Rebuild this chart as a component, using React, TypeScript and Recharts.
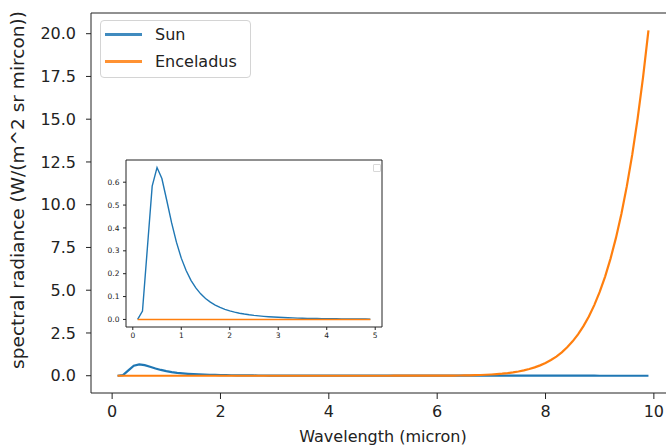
import React from "react";
import { LineChart, Line, XAxis, YAxis, ReferenceLine, Legend } from "recharts";

const SUN = "#1f77b4";
const ENCELADUS = "#ff7f0e";
const INK = "#222";
const FONT = "DejaVu Sans, sans-serif";

// wavelength grid (micron)
const wavelength = [
  0.1, 0.2, 0.3, 0.4, 0.5, 0.6, 0.7, 0.8, 0.9,
  1.0, 1.1, 1.2, 1.3, 1.4, 1.5, 1.6, 1.7, 1.8, 1.9,
  2.0, 2.1, 2.2, 2.3, 2.4, 2.5, 2.6, 2.7, 2.8, 2.9,
  3.0, 3.1, 3.2, 3.3, 3.4, 3.5, 3.6, 3.7, 3.8, 3.9,
  4.0, 4.1, 4.2, 4.3, 4.4, 4.5, 4.6, 4.7, 4.8, 4.9,
  5.0, 5.1, 5.2, 5.3, 5.4, 5.5, 5.6, 5.7, 5.8, 5.9,
  6.0, 6.1, 6.2, 6.3, 6.4, 6.5, 6.6, 6.7, 6.8, 6.9,
  7.0, 7.1, 7.2, 7.3, 7.4, 7.5, 7.6, 7.7, 7.8, 7.9,
  8.0, 8.1, 8.2, 8.3, 8.4, 8.5, 8.6, 8.7, 8.8, 8.9,
  9.0, 9.1, 9.2, 9.3, 9.4, 9.5, 9.6, 9.7, 9.8, 9.9,
];

// spectral radiance, W/(m^2 sr micron)
const sun = [
  0, 0.037, 0.31, 0.583, 0.664, 0.616, 0.521, 0.423, 0.338,
  0.268, 0.214, 0.171, 0.138, 0.112, 0.0916, 0.0755, 0.0627, 0.0524, 0.0441,
  0.0374, 0.0319, 0.0273, 0.0236, 0.0204, 0.0177, 0.0155, 0.0136, 0.012, 0.0106,
  0.0094, 0.0084, 0.0075, 0.0067, 0.006, 0.0054, 0.0049, 0.0045, 0.0041, 0.0037,
  0.0034, 0.0031, 0.0028, 0.0026, 0.0024, 0.0022, 0.002, 0.0019, 0.0017, 0.0016,
  0.0015, 0.0014, 0.0013, 0.0012, 0.0011, 0.0011, 0.001, 0.00095, 0.0009, 0.00085,
  0.0008, 0.00075, 0.0007, 0.00066, 0.00062, 0.00058, 0.00054, 0.00051, 0.00048, 0.00045,
  0.00042, 0.0004, 0.00038, 0.00036, 0.00034, 0.00032, 0.0003, 0.00029, 0.00027, 0.00026,
  0.00025, 0.00024, 0.00023, 0.00022, 0.00021, 0.0002, 0.00019, 0.00018, 0.00017, 0.00017,
  0.00016, 0.00015, 0.00015, 0.00014, 0.00013, 0.00013, 0.00012, 0.00012, 0.00011, 0.00011,
];

const enceladus = [
  0, 0, 0, 0, 0, 0, 0, 0, 0,
  0, 0, 0, 0, 0, 0, 0, 0, 0, 0,
  0, 0, 0, 0, 0, 0, 0, 0, 0, 0,
  0, 0, 0, 0, 0, 0, 0, 0, 0, 0,
  0, 0, 0, 0, 0, 0, 0, 0, 0, 0,
  0.0001, 0.0001, 0.0002, 0.0003, 0.0004, 0.0006, 0.0009, 0.0013, 0.0019, 0.0027,
  0.0038, 0.0052, 0.0072, 0.0099, 0.0134, 0.0181, 0.0243, 0.0323, 0.0426, 0.0559,
  0.0728, 0.0943, 0.121, 0.155, 0.197, 0.249, 0.314, 0.393, 0.489, 0.606,
  0.748, 0.918, 1.12, 1.37, 1.66, 2.01, 2.42, 2.9, 3.46, 4.13,
  4.9, 5.8, 6.85, 8.06, 9.46, 11.07, 12.91, 15.03, 17.44, 20.2,
];

const seriesNames = ["Sun", "Enceladus"];
const xTicks = [0, 2, 4, 6, 8, 10];
const yTicks = [0, 2.5, 5, 7.5, 10, 12.5, 15, 17.5, 20];
const insetXTicks = [0, 1, 2, 3, 4, 5];
const insetYTicks = [0, 0.1, 0.2, 0.3, 0.4, 0.5, 0.6];
const insetLimit = 4.9;

const rows = wavelength.map((w, i) => ({ w, Sun: sun[i], Enceladus: enceladus[i] }));
const insetRows = rows.filter((r) => r.w <= insetLimit + 1e-9);

// matplotlib-style 5% padding around the data range
const xDomain: [number, number] = [-0.39, 10.39];
const yDomain: [number, number] = [-1.01, 21.21];
const insetXDomain: [number, number] = [-0.14, 5.14];
const insetYDomain: [number, number] = [-0.033, 0.697];

const tickText = { fill: INK, fontSize: 16, fontFamily: FONT };
const smallTick = { fill: INK, fontSize: 7.5, fontFamily: FONT };

function LegendBox(props: any) {
  const payload = props.payload || [];
  // keep plotting order rather than the legend's alphabetical sort
  const items = seriesNames
    .map((name) => payload.find((p: any) => p.value === name))
    .filter(Boolean);
  return (
    <div
      style={{
        width: 151,
        height: 58,
        boxSizing: "border-box",
        border: "1px solid #d4d4d4",
        borderRadius: 4,
        background: "rgba(255,255,255,0.85)",
        position: "relative",
        fontFamily: FONT,
      }}
    >
      {items.map((it: any, i: number) => (
        <div
          key={it.value}
          style={{ position: "absolute", left: 4, top: 3 + i * 26.7, height: 21, display: "flex", alignItems: "center" }}
        >
          <span style={{ display: "inline-block", width: 37, height: 3, background: it.color, opacity: 0.85 }} />
          <span style={{ marginLeft: 13, fontSize: 16, color: INK, whiteSpace: "nowrap" }}>{it.value}</span>
        </div>
      ))}
    </div>
  );
}

function EmptyLegend() {
  return (
    <div style={{ width: 6, height: 6, border: "1px solid #d8d8d8", borderRadius: 1, background: "#fff" }} />
  );
}

function XTitle(props: any) {
  const vb = props.viewBox;
  return (
    <text x={vb.x + vb.width / 2} y={vb.y + 49} textAnchor="middle" fill={INK} fontSize={16} fontFamily={FONT}>
      Wavelength (micron)
    </text>
  );
}

function YTitle(props: any) {
  const vb = props.viewBox;
  const cx = vb.x - 7;
  const cy = vb.y + vb.height / 2 - 13;
  return (
    <text
      x={cx}
      y={cy}
      transform={`rotate(-90 ${cx} ${cy})`}
      textAnchor="middle"
      fill={INK}
      fontSize={18.5}
      fontFamily={FONT}
    >
      spectral radiance (W/(m^2 sr mircon))
    </text>
  );
}

function MainChart() {
  return (
    <LineChart width={700} height={448} data={rows} margin={{ top: 13, right: 25, bottom: 0, left: 31 }}>
      <XAxis
        dataKey="w"
        type="number"
        domain={xDomain}
        allowDataOverflow
        ticks={xTicks}
        tick={tickText}
        tickSize={6}
        tickMargin={7}
        height={55}
        stroke={INK}
        label={XTitle}
      />
      <YAxis
        type="number"
        domain={yDomain}
        allowDataOverflow
        ticks={yTicks}
        tickFormatter={(v: number) => v.toFixed(1)}
        tick={tickText}
        tickSize={5}
        tickMargin={10}
        width={60}
        stroke={INK}
        label={YTitle}
      />
      <ReferenceLine y={yDomain[1]} stroke={INK} strokeWidth={1} />
      <Line dataKey="Sun" stroke={SUN} strokeWidth={2.2} dot={false} isAnimationActive={false} />
      <Line dataKey="Enceladus" stroke={ENCELADUS} strokeWidth={2.2} dot={false} isAnimationActive={false} />
      <Legend
        layout="horizontal"
        verticalAlign="middle"
        align="center"
        content={LegendBox}
        wrapperStyle={{ left: 100, top: 20, width: 151, height: 58 }}
      />
    </LineChart>
  );
}

function InsetChart() {
  return (
    <LineChart width={300} height={200} data={insetRows} margin={{ top: 10, right: 13, bottom: 3, left: 11 }}>
      <XAxis
        dataKey="w"
        type="number"
        domain={insetXDomain}
        allowDataOverflow
        ticks={insetXTicks}
        tick={smallTick}
        tickSize={3}
        tickMargin={3}
        height={20}
        stroke={INK}
      />
      <YAxis
        type="number"
        domain={insetYDomain}
        allowDataOverflow
        ticks={insetYTicks}
        tickFormatter={(v: number) => v.toFixed(1)}
        tick={smallTick}
        tickSize={3}
        tickMargin={3.5}
        width={20}
        stroke={INK}
      />
      <ReferenceLine y={insetYDomain[1]} stroke={INK} strokeWidth={1} />
      <ReferenceLine x={insetXDomain[1]} stroke={INK} strokeWidth={1} />
      <Line dataKey="Sun" stroke={SUN} strokeWidth={1.4} dot={false} isAnimationActive={false} />
      <Line dataKey="Enceladus" stroke={ENCELADUS} strokeWidth={1.4} dot={false} isAnimationActive={false} />
      <Legend
        layout="horizontal"
        verticalAlign="middle"
        align="center"
        content={EmptyLegend}
        wrapperStyle={{ left: 278, top: 14, width: 8, height: 8 }}
      />
    </LineChart>
  );
}

export default function App() {
  return (
    <div
      style={{
        position: "absolute",
        left: 0,
        top: 0,
        width: 666,
        height: 448,
        overflow: "hidden",
        background: "#fff",
        fontFamily: FONT,
      }}
    >
      <div style={{ position: "absolute", left: 0, top: 0 }}>
        <MainChart />
      </div>
      <div style={{ position: "absolute", left: 95, top: 150 }}>
        <InsetChart />
      </div>
    </div>
  );
}
